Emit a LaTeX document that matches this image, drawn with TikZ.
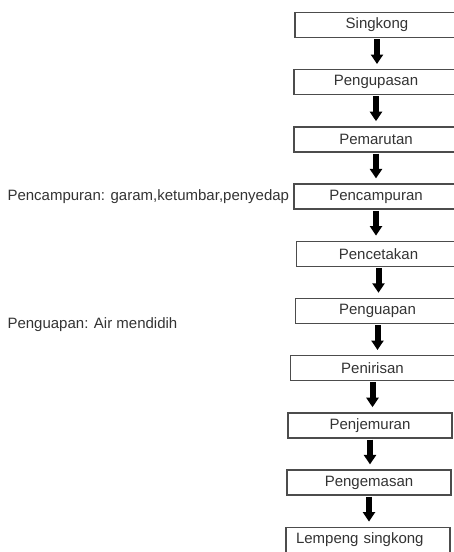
\documentclass[tikz,border=0pt]{standalone}
\usepackage{fontspec}
\setmainfont{Liberation Sans}
\usetikzlibrary{positioning,arrows.meta}

\begin{document}
\begin{tikzpicture}[
     x = 1pt, y = -1pt, % work in pixels, top down
     > = {Triangle[width=12pt,length=9.5pt]}, % arrow head style
     node distance = 57.2pt, % distance between boxes
     font = \fontsize{15}{17}\selectfont
 ]

 \tikzstyle{stepbox} = [
     draw = black!70,
     line width = 1.4pt,
     text = black!80,
     minimum width = 164pt,
     minimum height = 25pt,
     inner sep = 0pt
 ]
 \tikzstyle{flow} = [
     ->,
     line width = 6pt,
     shorten < = 1pt, % leave a gap below the box
     shorten > = 5pt, % don't touch next box
     black
 ]
 \tikzstyle{note} = [
     text = black!80,
     inner sep = 0pt
 ]

 \useasboundingbox (0,0) rectangle (453,552);

 \node[stepbox] (singkong) at (377,25) {Singkong};
 \node[stepbox] (kupas) [below of=singkong, xshift=-1pt] {Pengupasan};
 \node[stepbox] (parut) [below of=kupas] {Pemarutan};
 \node[stepbox] (campur) [below of=parut] {Pencampuran};
 \node[stepbox] (cetak) [below of=campur, xshift=2.5pt] {Pencetakan};
 \node[stepbox] (uap) [below of=cetak, xshift=-1pt] {Penguapan};
 \node[stepbox] (tiris) [below of=uap, xshift=-5pt] {Penirisan};
 \node[stepbox] (jemur) [below of=tiris, xshift=-2.5pt] {Penjemuran};
 \node[stepbox] (kemas) [below of=jemur, xshift=-1pt] {Pengemasan};
 \node[stepbox, text width=144pt, align=left, inner xsep=10pt] (lempeng) [below of=kemas, xshift=-1pt] {Lempeng singkong};

 \node[note, left=4pt of campur] (lcampur) {Pencampuran: garam,ketumbar,penyedap};
 \node[note, anchor=west] (luap) at (lcampur.west |- uap.south) {Penguapan: Air mendidih};

 \draw[flow] (singkong.south) -- (singkong.south |- kupas.north);
 \draw[flow] (kupas.south) -- (kupas.south |- parut.north);
 \draw[flow] (parut.south) -- (parut.south |- campur.north);
 \draw[flow] (campur.south) -- (campur.south |- cetak.north);
 \draw[flow] (cetak.south) -- (cetak.south |- uap.north);
 \draw[flow] (uap.south) -- (uap.south |- tiris.north);
 \draw[flow] (tiris.south) -- (tiris.south |- jemur.north);
 \draw[flow] (jemur.south) -- (jemur.south |- kemas.north);
 \draw[flow] (kemas.south) -- (kemas.south |- lempeng.north);
\end{tikzpicture}
\end{document}
